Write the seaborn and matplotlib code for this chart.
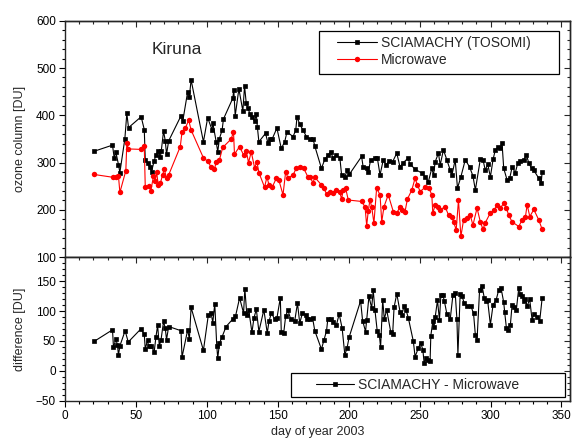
import matplotlib
matplotlib.use("Agg")
import matplotlib.pyplot as plt
import pandas as pd
import seaborn as sns
from matplotlib.patches import Rectangle
from matplotlib.ticker import MultipleLocator

# SCIAMACHY (TOSOMI) total ozone over Kiruna, DU
scia_day = [
    20.5, 33.5, 34.7, 35.9, 37.7, 38.7, 42.2, 43.6, 44.8, 53.7,
    55.9, 56.6, 58.2, 59.9, 61.0, 62.9, 64.1, 65.8, 67.2, 67.9,
    69.5, 70.7, 71.6, 73.1, 81.8, 83.0, 86.5, 87.7, 88.9, 97.6,
    100.6, 103.7, 104.2, 106.6, 107.7, 108.9, 110.8, 111.7, 118.3, 119.0,
    120.0, 122.6, 125.4, 126.6, 127.8, 128.9, 130.6, 132.0, 133.7, 134.9,
    135.6, 136.7, 141.4, 143.1, 144.3, 146.2, 149.4, 152.5, 154.9, 156.5,
    160.8, 162.7, 163.6, 165.5, 167.8, 170.2, 172.6, 174.9, 176.1, 180.8,
    183.2, 185.5, 187.2, 189.0, 191.4, 193.8, 195.0, 197.3, 199.0, 200.4,
    209.1, 210.2, 212.6, 213.8, 215.5, 218.5, 220.2, 222.1, 224.4, 226.3,
    228.6, 231.0, 233.9, 236.2, 238.5, 241.7, 243.3, 246.8, 251.5, 253.9,
    256.2, 258.6, 259.8, 261.0, 263.3, 264.5, 266.8, 269.2, 271.6, 272.8,
    275.1, 276.7, 279.1, 282.2, 285.2, 287.6, 289.3, 292.8, 294.7, 296.3,
    298.0, 299.9, 301.8, 303.4, 305.0, 306.9, 308.1, 309.3, 311.7, 313.5,
    315.2, 317.5, 319.2, 321.1, 323.4, 325.3, 327.0, 328.9, 330.5, 334.0,
    335.7, 336.4,
]
scia_ozone = [
    324, 337, 310, 322, 296, 279, 350, 404, 374, 397,
    370, 306, 299, 290, 281, 304, 316, 325, 311, 325,
    367, 346, 318, 346, 399, 387, 450, 439, 475, 344,
    395, 369, 384, 344, 323, 351, 369, 392, 436, 454,
    399, 456, 409, 462, 425, 415, 402, 396, 387, 403,
    376, 344, 362, 341, 350, 351, 373, 330, 344, 365,
    355, 369, 397, 381, 369, 355, 350, 350, 335, 288,
    307, 316, 323, 310, 316, 310, 274, 270, 284, 275,
    313, 291, 288, 280, 306, 309, 310, 274, 306, 295,
    304, 302, 320, 291, 300, 309, 297, 286, 278, 270,
    260, 288, 274, 302, 320, 295, 327, 306, 284, 274,
    306, 246, 270, 306, 291, 272, 242, 307, 306, 284,
    297, 270, 307, 327, 332, 330, 342, 288, 263, 267,
    290, 279, 299, 304, 306, 316, 299, 288, 284, 267,
    256, 281,
]

# ground based microwave radiometer, DU
mw_day = [
    20.5, 33.9, 35.9, 37.7, 38.7, 42.9, 43.6, 44.6, 53.5, 55.9,
    56.6, 58.9, 60.6, 62.4, 63.6, 64.6, 65.8, 67.2, 68.8, 70.0,
    71.6, 73.1, 81.3, 82.5, 84.9, 87.2, 88.9, 97.6, 100.6, 103.0,
    105.4, 106.6, 108.9, 111.2, 117.2, 118.8, 119.5, 123.1, 125.9, 127.8,
    129.4, 131.3, 133.7, 135.3, 136.7, 140.7, 142.4, 143.8, 146.2, 149.0,
    150.8, 153.7, 155.6, 157.2, 160.8, 163.2, 166.0, 168.3, 171.4, 172.6,
    174.9, 176.1, 180.8, 182.5, 184.4, 186.7, 189.0, 191.4, 193.8, 195.0,
    196.1, 197.8, 199.7, 209.1, 211.5, 212.7, 213.8, 215.0, 216.2, 217.8,
    219.7, 222.1, 223.3, 224.9, 227.9, 231.5, 233.9, 236.2, 237.4, 239.7,
    241.4, 244.5, 246.8, 248.4, 250.4, 253.9, 256.5, 258.6, 259.3, 261.0,
    263.3, 264.5, 268.0, 270.4, 272.8, 273.9, 275.8, 277.4, 279.1, 281.0,
    283.4, 285.7, 287.6, 290.5, 292.8, 294.7, 296.3, 299.9, 302.7, 304.6,
    306.9, 309.3, 311.2, 312.8, 315.2, 319.9, 322.3, 324.6, 325.8, 327.7,
    330.5, 334.0, 336.4,
]
mw_ozone = [
    275, 269, 270, 272, 237, 283, 342, 329, 328, 335,
    248, 251, 241, 272, 261, 280, 252, 256, 274, 286,
    267, 274, 334, 365, 373, 390, 369, 310, 303, 291,
    286, 302, 306, 332, 350, 365, 318, 334, 316, 325,
    300, 323, 289, 302, 279, 248, 270, 253, 249, 267,
    263, 232, 281, 267, 274, 289, 291, 288, 269, 269,
    258, 269, 253, 246, 234, 237, 235, 242, 237, 223,
    242, 247, 221, 218, 207, 167, 198, 221, 207, 172,
    246, 232, 175, 207, 232, 196, 193, 207, 200, 196,
    223, 242, 267, 253, 239, 248, 247, 232, 193, 211,
    207, 200, 207, 189, 186, 175, 158, 221, 144, 179,
    182, 189, 168, 204, 175, 159, 173, 194, 200, 211,
    204, 214, 204, 189, 175, 165, 179, 185, 211, 186,
    201, 179, 159,
]

# SCIAMACHY minus microwave, DU
diff_day = [
    20.5, 33.5, 34.2, 35.9, 37.0, 37.7, 38.7, 42.4, 44.6, 53.5,
    55.9, 56.6, 58.2, 58.9, 60.6, 62.9, 64.1, 65.3, 66.5, 67.7,
    69.5, 70.7, 71.6, 73.1, 81.8, 82.5, 86.5, 87.7, 88.9, 97.6,
    101.1, 103.0, 104.2, 105.6, 107.0, 107.7, 108.9, 110.8, 113.6,
    118.3, 120.2, 123.1, 125.9, 126.8, 128.2, 129.6, 131.8, 133.2, 134.9,
    136.7, 140.2, 142.6, 143.8, 145.5, 147.8, 149.4, 151.8, 152.5, 154.2,
    155.6, 157.2, 159.1, 161.9, 163.9, 165.5, 167.4, 169.7, 170.6, 172.6,
    174.5, 176.1, 180.8, 182.7, 184.4, 185.3, 187.4, 189.0, 191.4, 193.3,
    195.4, 197.3, 198.9, 200.3, 208.4, 209.8, 211.9, 212.7, 214.3, 216.2,
    217.3, 218.5, 220.1, 221.6, 222.5, 224.0, 225.1, 226.8,
    229.6, 231.0, 232.0, 233.9, 236.2, 237.4, 239.0, 240.4, 242.1, 245.6,
    246.8, 249.1, 250.8, 252.3, 253.2, 254.6, 256.2, 257.4, 257.9, 259.3,
    260.2, 261.0, 262.6, 264.0, 265.0, 266.4, 267.5, 269.2, 271.6, 273.5,
    275.1, 276.3, 277.0, 278.6, 279.8, 281.5, 283.4, 286.2, 288.0, 289.3,
    290.5, 292.3, 294.0, 295.6, 297.0, 297.9, 299.9, 301.8, 303.9, 305.7,
    307.4, 309.3, 310.0, 311.2, 312.1, 314.0, 315.2, 316.3, 318.2, 319.9,
    321.1, 322.3, 323.4, 324.6, 325.8, 327.6, 329.3, 330.5, 332.9, 334.7,
    336.4,
]
diff_value = [
    49, 68.5, 39, 53, 43, 26, 41.5, 67, 48, 70,
    61, 36, 51.6, 41.5, 41.6, 32, 56, 76, 41.6, 51.6,
    82.5, 71, 52, 74, 67, 22.5, 68.5, 52.8, 106, 34,
    94, 96.5, 80.7, 112, 41.6, 21, 46, 57, 74,
    86.5, 91, 122, 96.6, 137.5, 93.7, 101, 64, 88, 103,
    65.6, 102, 63, 82.5, 96.6, 86.5, 88, 122, 64, 63,
    92, 101, 86.5, 82.5, 113, 79.7, 96.6, 93.7, 86.5, 86.5,
    89, 67, 36, 52, 67, 86.5, 86.5, 81, 77, 95,
    71, 26.4, 38.7, 56, 117, 84, 65.6, 85, 124.6, 105,
    134.7, 102, 67, 60, 39.4, 119, 86.5, 102,
    65.6, 61.7, 106, 129, 99, 93.7, 107.7, 102, 88, 49,
    23.6, 37.6, 47, 34.8, 12.4, 21, 18, 16.8, 58.4, 82.5,
    74, 90, 118, 85, 127, 127, 116, 95.5, 86.5, 127,
    130, 86.5, 26.4, 129, 125.6, 113, 109, 107.7, 96.6, 60,
    51.7, 136, 142.6, 121.7, 116, 119, 77, 110.6, 118, 134.7,
    138.7, 114.5, 97.6, 71.4, 68.5, 77, 110.6, 106.6, 102, 138.7,
    128.4, 124.6, 116, 120, 107.7, 120, 85, 95.5, 90.8, 84,
    122,
]

sns.set_style("ticks")
plt.rcParams["font.family"] = ["Liberation Sans", "DejaVu Sans"]
plt.rcParams["axes.linewidth"] = 1.0

fig = plt.figure(figsize=(5.73, 4.41), dpi=100)
ax_top = fig.add_axes([0.1134, 0.4166, 0.8813, 0.5365])
ax_bot = fig.add_axes([0.1134, 0.0918, 0.8813, 0.3247])

scia = pd.DataFrame({"day": scia_day, "ozone": scia_ozone})
mw = pd.DataFrame({"day": mw_day, "ozone": mw_ozone})
diff = pd.DataFrame({"day": diff_day, "difference": diff_value})

line_kw = dict(estimator=None, sort=False, linewidth=0.8)
sns.lineplot(data=scia, x="day", y="ozone", ax=ax_top, color="black",
             marker="s", markersize=3.4, markeredgewidth=0.5,
             markeredgecolor="black", label="SCIAMACHY (TOSOMI)", **line_kw)
sns.lineplot(data=mw, x="day", y="ozone", ax=ax_top, color="red",
             marker="o", markersize=3.9, markeredgewidth=0,
             label="Microwave", **line_kw)
sns.lineplot(data=diff, x="day", y="difference", ax=ax_bot, color="black",
             marker="s", markersize=3.4, markeredgewidth=0.5,
             markeredgecolor="black", label="SCIAMACHY - Microwave", **line_kw)


def style_axes(ax, ylim, ymajor, yminor):
    ax.set_xlim(0, 356)
    ax.set_ylim(*ylim)
    ax.xaxis.set_major_locator(MultipleLocator(50))
    ax.xaxis.set_minor_locator(MultipleLocator(10))
    ax.yaxis.set_major_locator(MultipleLocator(ymajor))
    ax.yaxis.set_minor_locator(MultipleLocator(yminor))
    ax.tick_params(which="both", direction="out", width=0.8,
                   labelsize=8.5, colors="black", pad=2.5)
    ax.tick_params(which="major", length=4)
    ax.tick_params(which="minor", length=2.3)
    # top and right axes carry inward ticks, as in the original figure
    secx = ax.secondary_xaxis("top")
    secx.xaxis.set_major_locator(MultipleLocator(50))
    secx.xaxis.set_minor_locator(MultipleLocator(10))
    secx.tick_params(which="both", direction="in", labeltop=False, width=0.8)
    secx.tick_params(which="major", length=4)
    secx.tick_params(which="minor", length=2.3)
    secy = ax.secondary_yaxis("right")
    secy.yaxis.set_major_locator(MultipleLocator(ymajor))
    secy.yaxis.set_minor_locator(MultipleLocator(yminor))
    secy.tick_params(which="both", direction="in", labelright=False, width=0.8)
    secy.tick_params(which="major", length=4)
    secy.tick_params(which="minor", length=2.3)
    for sp in ax.spines.values():
        sp.set_visible(True)
        sp.set_linewidth(1.0)


style_axes(ax_top, (100, 600), 100, 20)
style_axes(ax_bot, (-50, 190), 50, 10)
ax_top.tick_params(labelbottom=False)

ax_top.set_xlabel("")
ax_top.set_ylabel("ozone column [DU]", fontsize=9)
ax_top.yaxis.set_label_coords(-0.078, 0.5)
ax_bot.set_ylabel("difference [DU]", fontsize=9)
ax_bot.yaxis.set_label_coords(-0.078, 0.5)
ax_bot.set_xlabel("day of year 2003", fontsize=9)
ax_bot.xaxis.set_label_coords(0.5, -0.18)

ax_top.text(0.172, 0.859, "Kiruna", transform=ax_top.transAxes,
            fontsize=12.5, va="baseline", ha="left")

# legends: Origin-style boxes
h, l = ax_top.get_legend_handles_labels()
ax_top.legend(h, l, loc="upper left", bbox_to_anchor=(0.538, 0.935),
              frameon=False, fontsize=10, handlelength=2.9,
              handletextpad=0.3, labelspacing=0.22, borderpad=0,
              borderaxespad=0, numpoints=1)
ax_top.add_patch(Rectangle((0.503, 0.775), 0.475, 0.1815,
                           transform=ax_top.transAxes, fill=False,
                           edgecolor="black", linewidth=0.9, zorder=5))

h, l = ax_bot.get_legend_handles_labels()
ax_bot.legend(h, l, loc="upper left", bbox_to_anchor=(0.497, 0.16),
              frameon=False, fontsize=10, handlelength=2.75,
              handletextpad=0.3, borderpad=0, borderaxespad=0, numpoints=1)
ax_bot.add_patch(Rectangle((0.4475, 0.024), 0.5425, 0.168,
                           transform=ax_bot.transAxes, fill=False,
                           edgecolor="black", linewidth=0.9, zorder=5))

plt.savefig("out.png", dpi=100)
plt.close()
